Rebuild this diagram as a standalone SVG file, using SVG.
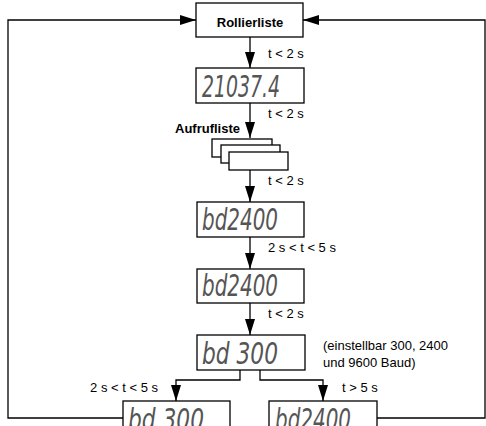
<svg xmlns="http://www.w3.org/2000/svg" width="486" height="426" viewBox="0 0 486 426">
<style>
.box{fill:#fff;stroke:#000;stroke-width:1.3}
.ln{fill:none;stroke:#000;stroke-width:1.3}
.lbl{font-family:"Liberation Sans",Arial,sans-serif;font-size:13px;fill:#000}
.bold{font-weight:bold}
.lcd{font-family:"DejaVu Sans","Noto Sans",sans-serif;font-size:30px;font-style:italic;font-weight:200;fill:#555}
</style>
<defs>
<marker id="ah" viewBox="0 0 16 10" refX="16" refY="5" markerWidth="16" markerHeight="10" markerUnits="userSpaceOnUse" orient="auto">
<path d="M0,0 L16,5 L0,10 Z" fill="#000"/>
</marker>
</defs>
<rect width="486" height="426" fill="#fff"/>
<g id="connectors">
<path class="ln" d="M123,418 H8 V20 H196" marker-end="url(#ah)"/>
<path class="ln" d="M377,418 H485 V20 H303" marker-end="url(#ah)"/>
<path class="ln" d="M250,37 V68" marker-end="url(#ah)"/>
<path class="ln" d="M250,103 V138" marker-end="url(#ah)"/>
<path class="ln" d="M250,170 V202" marker-end="url(#ah)"/>
<path class="ln" d="M250,237 V269" marker-end="url(#ah)"/>
<path class="ln" d="M250,303 V335" marker-end="url(#ah)"/>
<path class="ln" d="M240,370 V380 H176 V401" marker-end="url(#ah)"/>
<path class="ln" d="M260,370 V380 H323 V401" marker-end="url(#ah)"/>
<text class="lbl" x="268" y="58">t &lt; 2 s</text>
<text class="lbl" x="268" y="118">t &lt; 2 s</text>
<text class="lbl" x="268" y="185">t &lt; 2 s</text>
<text class="lbl" x="268" y="252">2 s &lt; t &lt; 5 s</text>
<text class="lbl" x="268" y="318">t &lt; 2 s</text>
<text class="lbl" x="158" y="392" text-anchor="end">2 s &lt; t &lt; 5 s</text>
<text class="lbl" x="342" y="392">t &gt; 5 s</text>
</g>
<g id="rollierliste">
<rect class="box" x="196" y="3" width="107" height="34"/>
<text class="lbl bold" x="250" y="27" text-anchor="middle">Rollierliste</text>
</g>
<g id="lcd1">
<rect class="box" x="196" y="68" width="108" height="35"/>
<text class="lcd" x="202" y="97" textLength="78" lengthAdjust="spacingAndGlyphs">21037.4</text>
</g>
<g id="aufrufliste">
<text class="lbl bold" x="240" y="133" text-anchor="end">Aufrufliste</text>
<rect class="box" x="212" y="139" width="60" height="18"/>
<rect class="box" x="221" y="145" width="59" height="18"/>
<rect class="box" x="229" y="152" width="59" height="18"/>
</g>
<g id="lcd2">
<rect class="box" x="197" y="202" width="107" height="35"/>
<text class="lcd" x="202" y="230" textLength="76" lengthAdjust="spacingAndGlyphs">bd2400</text>
</g>
<g id="lcd3">
<rect class="box" x="197" y="269" width="107" height="34"/>
<text class="lcd" x="202" y="296" textLength="76" lengthAdjust="spacingAndGlyphs">bd2400</text>
</g>
<g id="lcd4">
<rect class="box" x="197" y="335" width="108" height="35"/>
<text class="lcd" x="202" y="364" textLength="76" lengthAdjust="spacingAndGlyphs">bd 300</text>
<text class="lbl" x="323" y="350">(einstellbar 300, 2400</text>
<text class="lbl" x="323" y="367">und 9600 Baud)</text>
</g>
<g id="lcd5">
<rect class="box" x="123" y="401" width="107" height="35"/>
<text class="lcd" x="128" y="430" textLength="76" lengthAdjust="spacingAndGlyphs">bd 300</text>
</g>
<g id="lcd6">
<rect class="box" x="269" y="401" width="108" height="35"/>
<text class="lcd" x="275" y="430" textLength="76" lengthAdjust="spacingAndGlyphs">bd2400</text>
</g>
</svg>
